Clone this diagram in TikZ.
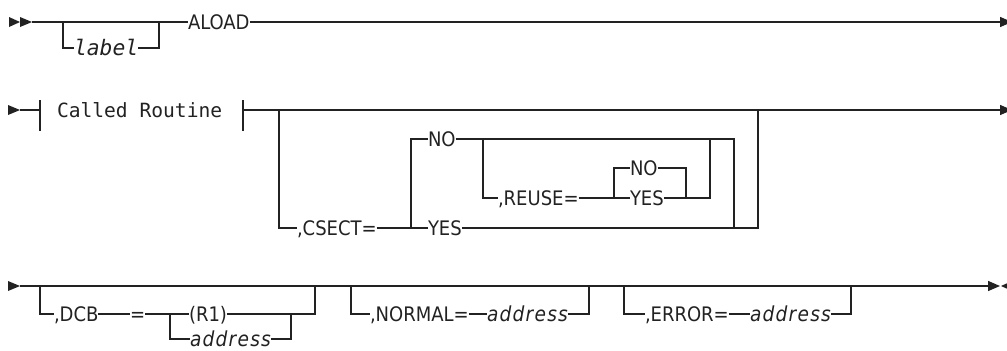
\documentclass[tikz,border=0pt]{standalone}
\usepackage{fontspec}
\setmainfont{DejaVu Sans Condensed}
\newfontfamily\monof{DejaVu Sans Mono}
\newfontfamily\varf{DejaVu Sans Condensed Oblique}[LetterSpace=6]
\usetikzlibrary{arrows.meta}
\definecolor{ink}{HTML}{222222}
\tikzset{
  rr/.style={draw=ink, line width=1pt},
  kw/.style={inner sep=0pt, outer sep=0pt, anchor=west, text height=11pt, text depth=0pt, text=ink, font=\fontsize{15}{18}\selectfont},
  var/.style={kw, font=\fontsize{15.5}{18}\selectfont\varf},
  mono/.style={kw, font=\fontsize{14.7}{18}\selectfont\monof},
  monovar/.style={kw, font=\fontsize{16}{19}\selectfont\monof\itshape},
  tip/.style={fill=ink},
  endarrow/.style={rr, -{Triangle[length=9pt,width=7.5pt]}}
}
\begin{document}
\begin{tikzpicture}[x=0.75pt,y=-0.75pt]
\useasboundingbox (0,0) rectangle (1007,350);
% ---------- row 1 ----------
\fill[tip] (9,17) -- (20,22) -- (9,27) -- cycle;
\fill[tip] (20,17) -- (32,22) -- (20,27) -- cycle;
\coordinate (s1) at (32,22);
\node[kw] (aload) at (188,22) {ALOAD};
\node[monovar] (label) at (74,48) {label};
\coordinate (e1) at (1012,22);
\draw[rr] (s1) -- (aload.west);
\draw[rr] (63,22) |- (label.west);
\draw[rr] (label.east) -| (159,22);
\draw[endarrow] (aload.east) -- (e1);
% ---------- row 2 ----------
\fill[tip] (8,105) -- (20,110) -- (8,115) -- cycle;
\coordinate (s2) at (20,110);
\coordinate (t1) at (40,110);
\coordinate (t2) at (243,110);
\node[mono] (called) at (57,110) {Called Routine};
\draw[rr] (s2) -- (t1);
\draw[rr] (40,100) -- (40,131);
\draw[rr] (243,100) -- (243,131);
\coordinate (e2) at (1012,110);
\draw[endarrow] (t2) -- (e2);
% CSECT
\node[kw] (csect) at (297,228) {,CSECT=};
\node[kw] (yes1) at (428,228) {YES};
\node[kw] (no1) at (428,139) {NO};
\draw[rr] (279,110) |- (csect.west);
\draw[rr] (csect.east) -- (yes1.west);
\draw[rr] (411,228) |- (no1.west);
\draw[rr] (no1.east) -- (734,139) -- (734,228);
\node[kw] (reuse) at (498,198) {,REUSE=};
\node[kw] (yes2) at (630,198) {YES};
\node[kw] (no2) at (630,168) {NO};
\draw[rr] (483,139) |- (reuse.west);
\draw[rr] (reuse.east) -- (yes2.west);
\draw[rr] (614,198) |- (no2.west);
\draw[rr] (no2.east) -| (686,198);
\draw[rr] (yes2.east) -| (710,139);
\draw[rr] (yes1.east) -| (758,110);
% ---------- row 3 ----------
\fill[tip] (8,281) -- (20,286) -- (8,291) -- cycle;
\coordinate (s3) at (20,286);
\coordinate (e3) at (1000,286);
\draw[endarrow] (s3) -- (e3);
\fill[tip] (1012,281) -- (1001,286) -- (1012,291) -- cycle;
\draw[draw=ink, line width=1.7pt] (856,286) -- (880,286);
% DCB
\node[kw] (dcb) at (54,314) {,DCB};
\node[kw] (eq) at (130,314) {=};
\node[kw] (r1) at (189,314) {(R1)};
\node[var] (addr1) at (190,339) {address};
\draw[rr] (40,286) |- (dcb.west);
\draw[rr] (dcb.east) -- (eq.west);
\draw[rr] (eq.east) -- (r1.west);
\draw[rr] (170,314) |- (addr1.west);
\draw[rr] (addr1.east) -| (291,314);
\draw[rr] (r1.east) -| (315,286);
% NORMAL
\node[kw] (normal) at (370,314) {,NORMAL=};
\node[var] (addr2) at (487,314) {address};
\draw[rr] (351,286) |- (normal.west);
\draw[rr] (normal.east) -- (addr2.west);
\draw[rr] (addr2.east) -| (589,286);
% ERROR
\node[kw] (error) at (645,314) {,ERROR=};
\node[var] (addr3) at (750,314) {address};
\draw[rr] (624,286) |- (error.west);
\draw[rr] (error.east) -- (addr3.west);
\draw[rr] (addr3.east) -| (851,286);
\end{tikzpicture}
\end{document}
